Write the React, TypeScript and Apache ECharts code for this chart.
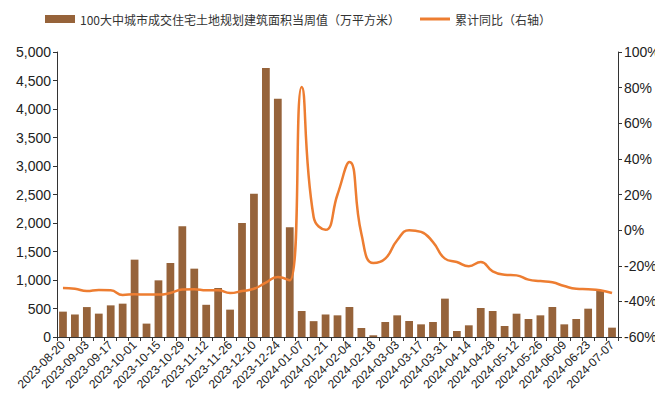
import React, { useEffect, useRef } from "react";
import * as echarts from "echarts";

const categories = [
  "2023-08-20","2023-08-27","2023-09-03","2023-09-10","2023-09-17","2023-09-24",
  "2023-10-01","2023-10-08","2023-10-15","2023-10-22","2023-10-29","2023-11-05",
  "2023-11-12","2023-11-19","2023-11-26","2023-12-03","2023-12-10","2023-12-17",
  "2023-12-24","2023-12-31","2024-01-07","2024-01-14","2024-01-21","2024-01-28",
  "2024-02-04","2024-02-11","2024-02-18","2024-02-25","2024-03-03","2024-03-10",
  "2024-03-17","2024-03-24","2024-03-31","2024-04-07","2024-04-14","2024-04-21",
  "2024-04-28","2024-05-05","2024-05-12","2024-05-19","2024-05-26","2024-06-02",
  "2024-06-09","2024-06-16","2024-06-23","2024-06-30","2024-07-07"
];

const weeklyArea = [
  445, 395, 525, 410, 555, 585, 1357, 235, 994, 1298, 1941, 1199,
  565, 860, 480, 2000, 2515, 4720, 4180, 1924, 456, 278, 395, 380,
  526, 158, 30, 263, 380, 281, 222, 263, 673, 105, 205, 509,
  456, 193, 409, 316, 380, 526, 222, 316, 497, 819, 164
];

const cumulativeYoY = [
  -32.5, -32.9, -34.2, -33.6, -33.8, -36.4, -36.0, -36.2, -36.2, -35.3, -33.4, -33.2,
  -33.8, -33.8, -35.3, -34.2, -32.9, -29.5, -26.3, -28.2, 80.3, 7.4, 0.2, 20.0,
  38.2, -2.0, -18.5, -16.0, -5.7, 0.0, -1.0, -6.7, -16.0, -17.9, -20.3, -17.9,
  -23.1, -25.0, -25.4, -27.8, -28.6, -29.3, -31.4, -32.9, -33.2, -33.8, -35.3
];

const barName = "100大中城市成交住宅土地规划建筑面积当周值（万平方米）";
const lineName = "累计同比（右轴）";

export default function App() {
  const ref = useRef<HTMLDivElement>(null);
  useEffect(() => {
    if (!ref.current) return;
    const chart = echarts.init(ref.current, undefined, { renderer: "svg" });
    const font = "'Liberation Sans', Arial, sans-serif";
    chart.setOption({
      animation: false,
      textStyle: { fontFamily: font },
      legend: {
        top: 8,
        left: 40,
        itemGap: 20,
        itemWidth: 30,
        itemHeight: 8,
        textStyle: { fontSize: 12, color: "#333", fontFamily: "'Noto Sans CJK SC', sans-serif" },
        data: [
          { name: barName, icon: "rect" },
          { name: lineName, icon: "path://M0,0 H30 V3 H0 Z" },
        ],
      },
      grid: { left: 57, right: 45, top: 52, bottom: 73 },
      xAxis: {
        type: "category",
        data: categories,
        axisLine: { lineStyle: { color: "#333", width: 1 } },
        axisTick: { show: true, interval: 0, length: 4, lineStyle: { color: "#333" } },
        axisLabel: { interval: 1, rotate: 45, fontSize: 12, color: "#222", margin: 6 },
      },
      yAxis: [
        {
          type: "value",
          min: 0,
          max: 5000,
          interval: 500,
          splitLine: { show: false },
          axisLine: { show: true, lineStyle: { color: "#333" } },
          axisTick: { show: true, length: 4, lineStyle: { color: "#333" } },
          axisLabel: {
            fontSize: 14,
            color: "#222",
            margin: 6,
            formatter: (v: number) => v.toLocaleString("en-US"),
          },
        },
        {
          type: "value",
          min: -60,
          max: 100,
          interval: 20,
          position: "right",
          splitLine: { show: false },
          axisLine: { show: true, lineStyle: { color: "#333" } },
          axisTick: { show: true, length: 4, lineStyle: { color: "#333" } },
          axisLabel: { fontSize: 14, color: "#222", margin: 6, formatter: (v: number) => v + "%" },
        },
      ],
      series: [
        {
          name: barName,
          type: "bar",
          data: weeklyArea,
          yAxisIndex: 0,
          barWidth: "65%",
          itemStyle: { color: "#96633A" },
        },
        {
          name: lineName,
          type: "line",
          data: cumulativeYoY,
          yAxisIndex: 1,
          smooth: 0.5,
          showSymbol: false,
          symbol: "none",
          lineStyle: { color: "#ED7D31", width: 2.5 },
          itemStyle: { color: "#ED7D31" },
        },
      ],
    });
    return () => chart.dispose();
  }, []);
  return <div ref={ref} style={{ width: 663, height: 410, margin: -8 }} />;
}
